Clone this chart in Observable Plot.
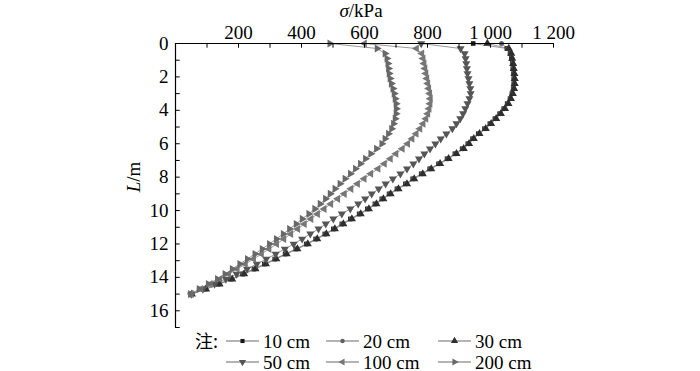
<!DOCTYPE html>
<html><head><meta charset="utf-8">
<script src="https://cdn.jsdelivr.net/npm/d3@7"></script>
<script src="https://cdn.jsdelivr.net/npm/@observablehq/plot@0.6"></script>
<style>
body{margin:0;background:#fff}
#chart{width:700px;position:relative}
svg{display:block;overflow:visible}
</style>
</head><body><div id="chart"></div>
<script>
// depth L (m)
const depth = [0,0.3,0.6,0.9,1.2,1.5,1.8,2.1,2.4,2.7,3,3.3,3.6,3.9,4.2,4.5,4.8,5.1,5.4,5.7,6,6.3,6.6,6.9,7.2,7.5,7.8,8.1,8.4,8.7,9,9.3,9.6,9.9,10.2,10.5,10.8,11.1,11.4,11.7,12,12.3,12.6,12.9,13.2,13.5,13.8,14.1,14.4,14.7,15];
// sigma (kPa) per series
const s10 = [945,1052,1062,1066,1069,1071,1073,1074,1074,1072,1068,1062,1053,1042,1029,1014,998,981,961,943,928,910,887,862,835,807,780,753,730,703,678,655,633,609,583,555,528,501,474,445,415,382,348,315,282,249,213,175,136,94,50];
const s20 = [1035,1055,1064,1068,1070,1072,1074,1075,1075,1073,1069,1063,1055,1044,1031,1016,1000,983,963,945,930,912,889,864,837,809,782,755,732,705,680,657,635,611,585,557,530,503,476,447,417,384,350,317,284,251,215,177,138,95,51];
const s30 = [990,1058,1066,1069,1072,1074,1076,1077,1077,1075,1071,1065,1057,1046,1033,1018,1002,985,965,947,932,915,892,867,840,812,785,758,735,708,683,660,638,614,588,560,533,506,479,450,420,387,353,320,287,254,218,180,140,97,52];
const s50 = [780,905,918,921,923,925,927,930,933,936,937,933,927,920,913,904,892,879,860,842,825,808,790,773,755,735,714,690,667,645,623,602,580,555,528,501,477,454,428,402,375,347,318,288,258,227,194,160,124,87,50];
const s100 = [600,765,782,786,789,792,795,798,801,804,807,809,808,805,801,795,786,776,764,751,737,720,700,682,663,643,620,599,578,557,536,515,493,472,451,430,409,388,366,344,321,297,273,248,222,196,169,141,110,80,50];
const s200 = [490,640,665,671,674,676,678,681,685,690,694,697,700,701,700,697,692,686,676,665,655,638,620,603,587,571,555,538,522,506,491,476,459,442,423,402,383,362,342,320,298,275,252,228,204,180,157,133,104,75,48];
const seriesNames = ["10 cm","20 cm","30 cm","50 cm","100 cm","200 cm"];
const seriesValues = [s10,s20,s30,s50,s100,s200];
const xTickValues = [100,200,300,400,500,600,700,800,900,1000,1100,1200];
const xLabelValues = [200,400,600,800,1000,1200];
const yTickValues = [1,2,3,4,5,6,7,8,9,10,11,12,13,14,15,16,17];
const yLabelValues = [0,2,4,6,8,10,12,14,16];

// symbols
const SQ3 = Math.sqrt(3);
function tri(angle){
  const a = angle*Math.PI/180, c = Math.cos(a), s = Math.sin(a);
  return {draw(ctx,size){
    const y = -Math.sqrt(size/(SQ3*3));
    const pts = [[0,y*2],[-SQ3*y,-y],[SQ3*y,-y]].map(([px,py])=>[px*c-py*s, px*s+py*c]);
    ctx.moveTo(pts[0][0],pts[0][1]); ctx.lineTo(pts[1][0],pts[1][1]); ctx.lineTo(pts[2][0],pts[2][1]); ctx.closePath();
  }};
}
const symbols = [d3.symbolSquare, d3.symbolCircle, tri(0), tri(180), tri(-90), tri(90)];
const colors = ["#161616","#606060","#2e2e2e","#555555","#777777","#686868"];
const sizes = [2.6,2.5,3.0,3.0,3.0,3.0];

const data = seriesNames.flatMap((name,k)=>depth.map((L,i)=>({series:name, L, sigma:seriesValues[k][i]})));

const fontFamily = "'Liberation Serif', 'Times New Roman', serif";
const fmt = d => d >= 1000 ? d3.format(",")(d).replace(/,/g," ") : String(d);

const marks = [
  Plot.line(data, {x:"sigma", y:"L", z:"series", stroke:"#8c8c8c", strokeWidth:0.9}),
  ...seriesNames.map((name,k)=>Plot.dot(data.filter(d=>d.series===name), {x:"sigma", y:"L", symbol:symbols[k], r:sizes[k], fill:colors[k], stroke:"none"})),
  Plot.ruleY([0], {stroke:"#000", strokeWidth:1.2}),
  Plot.ruleX([0], {stroke:"#000", strokeWidth:1.2}),
  Plot.ruleX(xTickValues, {x:d=>d, y1:0, y2:0.28, stroke:"#000", strokeWidth:1}),
  Plot.ruleY(yTickValues, {y:d=>d, x1:0, x2:15, stroke:"#000", strokeWidth:1})
];

const svg = Plot.plot({
  width:700, height:329,
  marginTop:43, marginBottom:2, marginLeft:175, marginRight:147,
  style:{fontFamily, fontSize:"19px", color:"#000", background:"#fff", overflow:"visible"},
  x:{domain:[0,1200], axis:"top", ticks:xLabelValues, tickSize:0, tickPadding:5, tickFormat:fmt, label:null},
  y:{domain:[0,17], reverse:true, axis:"left", ticks:yLabelValues, tickSize:0, tickPadding:7, label:null},
  marks
});

const sel = d3.select(svg);
const xt = sel.append("text").attr("x",361).attr("y",17).attr("text-anchor","middle")
  .style("font-family",fontFamily).style("font-size","19px").attr("fill","#000");
xt.append("tspan").style("font-style","italic").text("σ");
xt.append("tspan").text("/kPa");
const yt = sel.append("text").attr("transform","translate(140,177) rotate(-90)").attr("text-anchor","middle")
  .style("font-family",fontFamily).style("font-size","19px").attr("fill","#000");
yt.append("tspan").style("font-style","italic").text("L");
yt.append("tspan").text("/m");

document.getElementById("chart").appendChild(svg);

// legend below the plot
const leg = d3.select("#chart").append("svg").attr("width",700).attr("height",42).style("display","block").style("overflow","visible");
const legX = [226,326,438];
const legY = [12,33];
leg.append("text").attr("x",195).attr("y",legY[0]+6.5)
  .style("font-family","'Noto Sans CJK SC', sans-serif").style("font-size","18px").text("注:");
seriesNames.forEach((name,k)=>{
  const x0 = legX[k%3], y0 = legY[Math.floor(k/3)];
  const g = leg.append("g");
  g.append("line").attr("x1",x0).attr("x2",x0+33).attr("y1",y0).attr("y2",y0).attr("stroke","#6a6a6a").attr("stroke-width",1.2);
  const sz = Math.PI*sizes[k]*sizes[k]*0.8;
  g.append("path").attr("d", d3.symbol(symbols[k], sz)()).attr("transform",`translate(${x0+16.5},${y0})`).attr("fill",colors[k]);
  g.append("text").attr("x",x0+37).attr("y",y0+6.5)
    .style("font-family",fontFamily).style("font-size","19px").text(name);
});
</script></body></html>
